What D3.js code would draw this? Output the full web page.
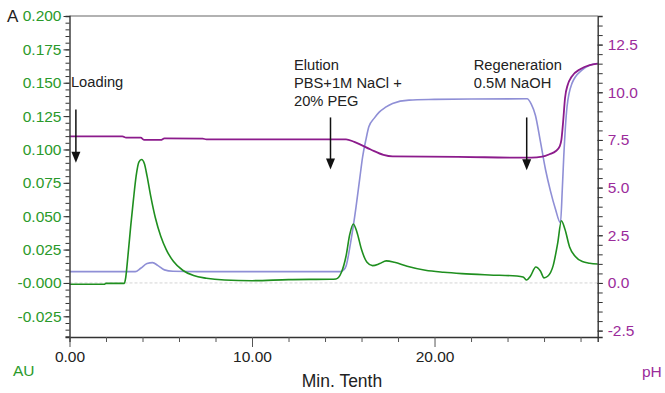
<!DOCTYPE html>
<html>
<head>
<meta charset="utf-8">
<script src="https://cdn.jsdelivr.net/npm/d3@7"></script>
<style>
  html, body { margin: 0; padding: 0; background: #fff; }
  svg { display: block; font-family: Arial, "Liberation Sans", sans-serif; }
</style>
</head>
<body>
<svg id="chart" width="665" height="393"></svg>
<script>
// UV absorbance trace (time in tenths of minutes, AU)
const uvTrace = [
  [0, -0.001], [1.9, -0.001], [2.0, -0.0003], [3.0, -0.0003], [3.08, 0.004],
  [3.2, 0.02], [3.35, 0.042], [3.5, 0.062], [3.65, 0.08], [3.8, 0.0905],
  [3.95, 0.0925], [4.1, 0.0895], [4.25, 0.08], [4.45, 0.065], [4.7, 0.049],
  [5.0, 0.035], [5.3, 0.025], [5.7, 0.016], [6.2, 0.0095], [6.8, 0.0055],
  [7.5, 0.0035], [8.5, 0.0022], [10, 0.0017], [12, 0.0025], [14.3, 0.0028],
  [14.6, 0.003], [14.9, 0.008], [15.15, 0.02], [15.35, 0.036], [15.55, 0.0442],
  [15.75, 0.038], [16.0, 0.025], [16.3, 0.0155], [16.6, 0.013], [17.0, 0.0145],
  [17.35, 0.0165], [17.8, 0.0155], [18.5, 0.0125], [19.5, 0.0095], [20.5, 0.008],
  [21.5, 0.007], [23, 0.006], [24.5, 0.0052], [24.85, 0.0045], [25.05, 0.0022],
  [25.25, 0.005], [25.55, 0.012], [25.8, 0.009], [26.0, 0.0038], [26.2, 0.005],
  [26.5, 0.013], [26.75, 0.03], [26.95, 0.0466], [27.15, 0.04], [27.4, 0.027],
  [27.7, 0.02], [28.1, 0.016], [28.5, 0.0148], [28.94, 0.0142]
];

// pH trace
const phTrace = [
  [0, 7.69], [2.9, 7.69], [3.1, 7.62], [3.9, 7.62], [4.1, 7.5], [5.0, 7.5],
  [5.2, 7.58], [7.3, 7.57], [7.5, 7.53], [10.4, 7.53], [15.15, 7.53],
  [15.6, 7.4], [16.5, 7.0], [17.2, 6.72], [17.7, 6.64], [21.3, 6.61],
  [25.3, 6.57], [25.9, 6.62], [26.3, 6.75], [26.65, 6.92], [26.85, 7.15],
  [26.95, 7.5], [27.05, 8.5], [27.15, 9.7], [27.3, 10.4], [27.5, 10.8],
  [28.0, 11.22], [28.5, 11.42], [28.94, 11.5]
];

// conductivity trace, drawn against the AU axis
const condTrace = [
  [0, 0.0085], [3.6, 0.0085], [3.9, 0.011], [4.25, 0.0145], [4.55, 0.0152],
  [4.85, 0.013], [5.2, 0.0098], [5.67, 0.0088], [7, 0.0085], [14.85, 0.0085],
  [15.0, 0.0095], [15.15, 0.0125], [15.4, 0.03], [15.7, 0.057], [15.9, 0.078],
  [16.06, 0.0945], [16.25, 0.108], [16.4, 0.117], [16.7, 0.1235], [16.97, 0.128],
  [17.3, 0.1315], [17.7, 0.1345], [18.6, 0.137], [20, 0.1375], [22, 0.1378],
  [25.07, 0.138], [25.3, 0.134], [25.53, 0.1255], [25.8, 0.106], [26.08, 0.085],
  [26.35, 0.069], [26.62, 0.0556], [26.9, 0.045], [27.0, 0.07], [27.08, 0.0945],
  [27.26, 0.132], [27.53, 0.1495], [28.07, 0.1594], [28.5, 0.163], [28.94, 0.1644]
];

// axis ticks
const xMajorTicks = [0, 10, 20];
const xMajorLabels = ["0.00", "10.00", "20.00"];
const xMinorTicks = [2, 4, 6, 8, 12, 14, 16, 18, 22, 24, 26, 28];
const auTicks = [-0.025, 0, 0.025, 0.05, 0.075, 0.1, 0.125, 0.15, 0.175, 0.2];
const auLabels = ["-0.025", "-0.000", "0.025", "0.050", "0.075", "0.100", "0.125", "0.150", "0.175", "0.200"];
const phTicks = [-2.5, 0, 2.5, 5, 7.5, 10, 12.5];
const phLabels = ["-2.5", "0.0", "2.5", "5.0", "7.5", "10.0", "12.5"];

// step annotations
const steps = [
  { t: 0.35, lines: ["Loading"], textT: 0.08, textAU: 0.1465, arrowFrom: 0.130, arrowTo: 0.090 },
  { t: 14.3, lines: ["Elution", "PBS+1M NaCl +", "20% PEG"], textT: 12.3, textAU: 0.1598, arrowFrom: 0.124, arrowTo: 0.085 },
  { t: 25.05, lines: ["Regeneration", "0.5M NaOH"], textT: 22.15, textAU: 0.1598, arrowFrom: 0.124, arrowTo: 0.0845 }
];

const GREEN = "#1f8f1f", GREEN_TXT = "#2a9a2a";
const PURPLE = "#8c1b8c", PURPLE_TXT = "#9b2b9b";
const LAV = "#8f8fd6";

const svg = d3.select("#chart");
const L = 69.5, R = 597.7, T = 16, B = 337;

const x = d3.scaleLinear().domain([0, 28.94]).range([L, R]);
const yAU = d3.scaleLinear().domain([-0.0405, 0.2]).range([B, T]);
const yPH = d3.scaleLinear().domain([-2.835, 14.0]).range([B, T]);

// zero reference line
svg.append("line")
  .attr("x1", L).attr("x2", R).attr("y1", yAU(0)).attr("y2", yAU(0))
  .attr("stroke", "#d4d4d4").attr("stroke-width", 1).attr("stroke-dasharray", "3,2");

// frame top
svg.append("line").attr("x1", L).attr("x2", R).attr("y1", T).attr("y2", T)
  .attr("stroke", "#666").attr("stroke-width", 1.2);

// traces
const lineAU = d3.line().x(d => x(d[0])).y(d => yAU(d[1])).curve(d3.curveMonotoneX);
const linePH = d3.line().x(d => x(d[0])).y(d => yPH(d[1])).curve(d3.curveMonotoneX);

svg.append("path").datum(condTrace).attr("d", lineAU)
  .attr("fill", "none").attr("stroke", LAV).attr("stroke-width", 1.6);
svg.append("path").datum(phTrace).attr("d", linePH)
  .attr("fill", "none").attr("stroke", PURPLE).attr("stroke-width", 1.8);
svg.append("path").datum(uvTrace).attr("d", lineAU)
  .attr("fill", "none").attr("stroke", GREEN).attr("stroke-width", 1.6);

// left axis
const leftAxis = svg.append("g").attr("transform", `translate(${L},0)`)
  .call(d3.axisLeft(yAU).tickValues(d3.range(-0.04, 0.2001, 0.005)).tickSize(4).tickFormat(""));
leftAxis.select(".domain").attr("stroke", "#333").attr("stroke-width", 1.4);
leftAxis.selectAll(".tick line").attr("stroke", "#333");
const leftMajor = svg.append("g").attr("transform", `translate(${L},0)`)
  .call(d3.axisLeft(yAU).tickValues(auTicks).tickSize(6).tickPadding(2)
    .tickFormat((d, i) => auLabels[i]));
leftMajor.select(".domain").remove();
leftMajor.selectAll(".tick line").attr("stroke", "#333");
leftMajor.selectAll(".tick text").attr("fill", GREEN_TXT)
  .style("font-size", "15.5px").style("font-family", "Arial, 'Liberation Sans', sans-serif");

// right axis
const rightAxis = svg.append("g").attr("transform", `translate(${R},0)`)
  .call(d3.axisRight(yPH).tickValues(d3.range(-2.5, 13.51, 0.5)).tickSize(5).tickFormat(""));
rightAxis.select(".domain").attr("stroke", "#333").attr("stroke-width", 1.4);
rightAxis.selectAll(".tick line").attr("stroke", "#333");
const rightMajor = svg.append("g").attr("transform", `translate(${R},0)`)
  .call(d3.axisRight(yPH).tickValues(phTicks).tickSize(5).tickPadding(5)
    .tickFormat((d, i) => phLabels[i]));
rightMajor.select(".domain").remove();
rightMajor.selectAll(".tick line").attr("stroke", "#333");
rightMajor.selectAll(".tick text").attr("fill", PURPLE_TXT)
  .style("font-size", "15.5px").style("font-family", "Arial, 'Liberation Sans', sans-serif");

// bottom axis
const bottomMinor = svg.append("g").attr("transform", `translate(0,${B})`)
  .call(d3.axisBottom(x).tickValues(xMinorTicks).tickSize(5).tickFormat(""));
bottomMinor.select(".domain").attr("stroke", "#333").attr("stroke-width", 1.4);
bottomMinor.selectAll(".tick line").attr("stroke", "#555");
const bottomMajor = svg.append("g").attr("transform", `translate(0,${B})`)
  .call(d3.axisBottom(x).tickValues(xMajorTicks).tickSize(10).tickPadding(4)
    .tickFormat((d, i) => xMajorLabels[i]));
bottomMajor.select(".domain").remove();
bottomMajor.selectAll(".tick line").attr("stroke", "#555");
bottomMajor.selectAll(".tick text").attr("fill", "#222")
  .style("font-size", "15.5px").style("font-family", "Arial, 'Liberation Sans', sans-serif");

// axis titles
svg.append("text").attr("x", 7).attr("y", 22).text("A")
  .attr("fill", "#222").style("font-size", "17px");
svg.append("text").attr("x", 13).attr("y", 376).text("AU")
  .attr("fill", GREEN_TXT).style("font-size", "15.5px");
svg.append("text").attr("x", 642).attr("y", 377).text("pH")
  .attr("fill", PURPLE_TXT).style("font-size", "15.5px");
svg.append("text").attr("x", 342).attr("y", 387).attr("text-anchor", "middle")
  .text("Min. Tenth").attr("fill", "#222").style("font-size", "17.5px");

// step annotations with arrows
steps.forEach(s => {
  const tx = svg.append("text").attr("x", x(s.textT)).attr("y", yAU(s.textAU))
    .attr("fill", "#222").style("font-size", "14.7px");
  s.lines.forEach((ln, i) => {
    tx.append("tspan").attr("x", x(s.textT)).attr("dy", i === 0 ? 0 : 18.2).text(ln);
  });
  const ax = x(s.t), y0 = yAU(s.arrowFrom), y1 = yAU(s.arrowTo);
  svg.append("line").attr("x1", ax).attr("x2", ax).attr("y1", y0).attr("y2", y1 - 10)
    .attr("stroke", "#111").attr("stroke-width", 1.5);
  svg.append("path")
    .attr("d", `M${ax - 4.5},${y1 - 11} L${ax + 4.5},${y1 - 11} L${ax},${y1} Z`)
    .attr("fill", "#111");
});
</script>
</body>
</html>
